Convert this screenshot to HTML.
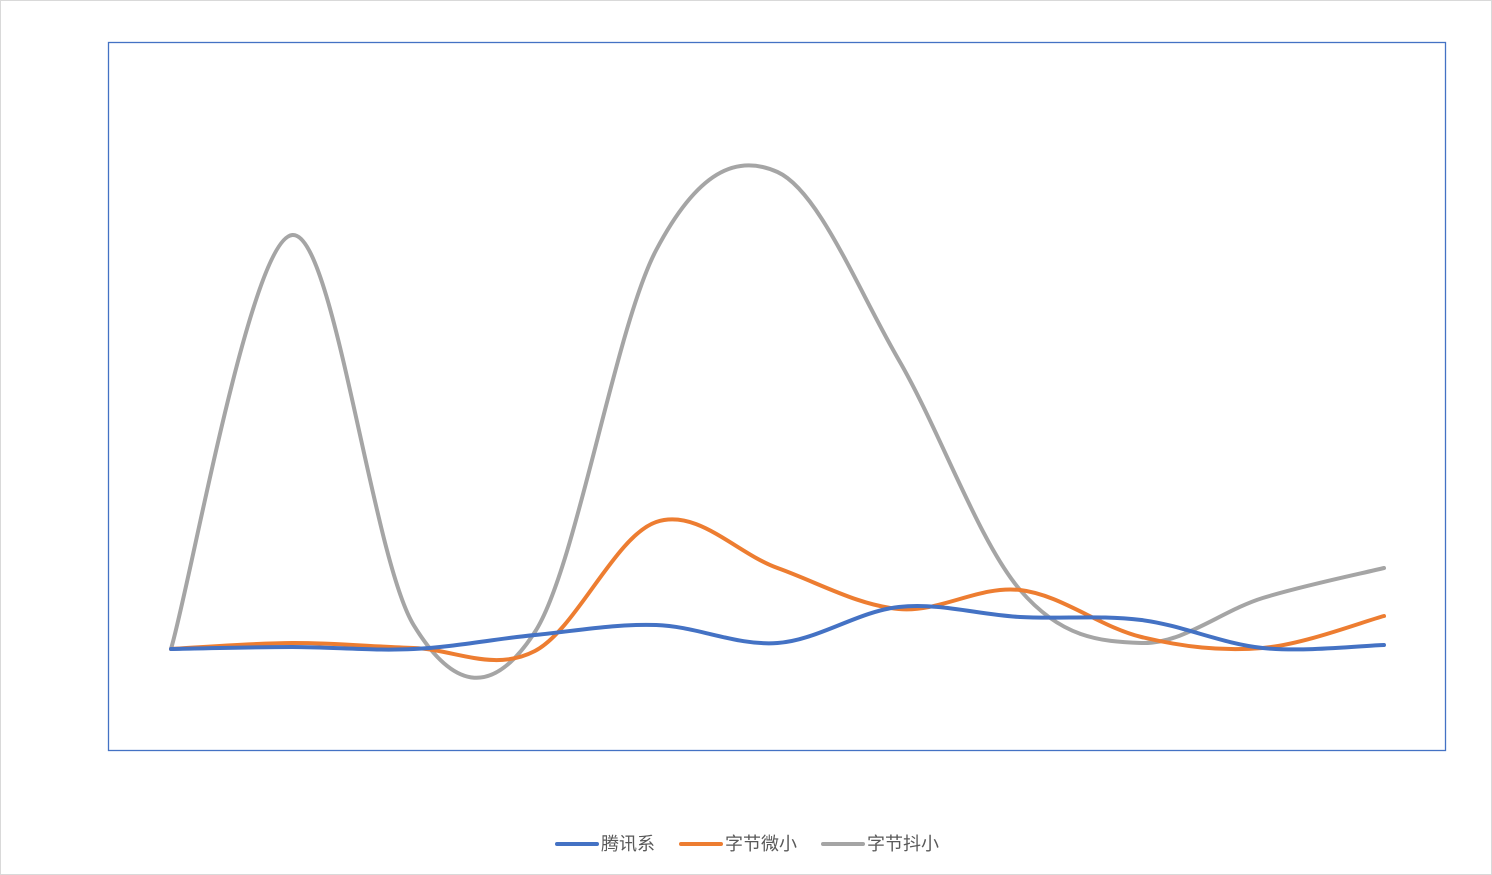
<!DOCTYPE html>
<html><head><meta charset="utf-8"><style>
html,body{margin:0;padding:0;background:#fff}
svg{display:block}
</style></head><body>
<svg id="s" width="1492" height="875" xmlns="http://www.w3.org/2000/svg">
<rect x="0.5" y="0.5" width="1491" height="874" fill="#fff" stroke="#d9d9d9"/>
<rect x="108.5" y="42.5" width="1337" height="708" fill="none" stroke="#4472c4" stroke-width="1.3"/>
<g id="lines" fill="none" stroke-width="4" stroke-linecap="round" stroke-linejoin="round"></g>
<g font-family="Liberation Sans, Noto Sans CJK SC, sans-serif" font-size="18" fill="#595959">
<line x1="557" y1="844" x2="597" y2="844" stroke="#4472c4" stroke-width="4" stroke-linecap="round"/>
<text x="601" y="850">腾讯系</text>
<line x1="681" y1="844" x2="721" y2="844" stroke="#ed7d31" stroke-width="4" stroke-linecap="round"/>
<text x="725" y="850">字节微小</text>
<line x1="823" y1="844" x2="863" y2="844" stroke="#a5a5a5" stroke-width="4" stroke-linecap="round"/>
<text x="867" y="850">字节抖小</text>
</g>
</svg>
<script>
var xs=[];for(var i=0;i<11;i++)xs.push(171+i*121.3);
var series=[
["#a5a5a5",[649,235,625,632,250,172,360,590,643,598,568]],
["#ed7d31",[649,643,648,651,522,568,609,590,637,648,616]],
["#4472c4",[649,647,649,635,625,643,607,617,620,648,645]]];
var g=document.getElementById('lines');
series.forEach(function(s){
 var y=s[1],d="M"+xs[0]+","+y[0],t=0.17;
 for(var i=0;i<10;i++){
  var p0=i>0?i-1:i,p3=i<9?i+2:i+1;
  var c1x=xs[i]+(xs[i+1]-xs[p0])*t,c1y=y[i]+(y[i+1]-y[p0])*t;
  var c2x=xs[i+1]-(xs[p3]-xs[i])*t,c2y=y[i+1]-(y[p3]-y[i])*t;
  d+=" C"+c1x+","+c1y+" "+c2x+","+c2y+" "+xs[i+1]+","+y[i+1];
 }
 var p=document.createElementNS("http://www.w3.org/2000/svg","path");
 p.setAttribute("d",d);p.setAttribute("stroke",s[0]);g.appendChild(p);
});
</script>
</body></html>
